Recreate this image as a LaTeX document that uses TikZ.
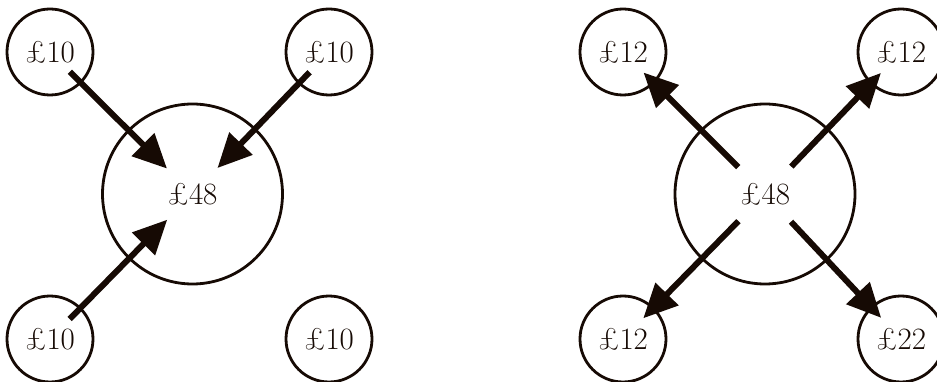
\documentclass[tikz,border=0pt]{standalone}
\usepackage{fontspec}
\usetikzlibrary{arrows.meta}
\definecolor{ink}{RGB}{22,10,4}
\begin{document}
\begin{tikzpicture}[x=1pt,y=-1pt,
  money/.style={circle,draw=ink,line width=2.8pt,inner sep=0pt,text=ink,
     font=\fontsize{31}{34}\selectfont},
  small/.style={money,minimum size=86pt},
  big/.style={money,minimum size=180pt},
  arr/.style={draw=ink,line width=6pt,-{Triangle[length=34pt,width=31pt]}}]
\useasboundingbox (0,0) rectangle (937,382);
\clip (0,0) rectangle (937,382);
% left diagram
\node[big]   (L)   at (192.5,194) {£48};
\node[small] (ltl) at (50,52)   {£10};
\node[small] (ltr) at (329,52)  {£10};
\node[small] (lbl) at (50,339)  {£10};
\node[small] (lbr) at (329,339) {£10};
\draw[arr,shorten <=28pt,shorten >=36pt] (ltl.center) -- (L.center);
\draw[arr,shorten <=28pt,shorten >=36pt] (ltr.center) -- (L.center);
\draw[arr,shorten <=28pt,shorten >=36pt] (lbl.center) -- (L.center);
% right diagram
\node[big]   (R)   at (765,194) {£48};
\node[small] (rtl) at (623,52)  {£12};
\node[small] (rtr) at (901,52)  {£12};
\node[small] (rbl) at (623,339) {£12};
\node[small] (rbr) at (901,339) {£22};
\draw[arr,shorten <=38pt,shorten >=29pt] (R.center) -- (rtl.center);
\draw[arr,shorten <=38pt,shorten >=29pt] (R.center) -- (rtr.center);
\draw[arr,shorten <=38pt,shorten >=29pt] (R.center) -- (rbl.center);
\draw[arr,shorten <=38pt,shorten >=29pt] (R.center) -- (rbr.center);
\end{tikzpicture}
\end{document}
